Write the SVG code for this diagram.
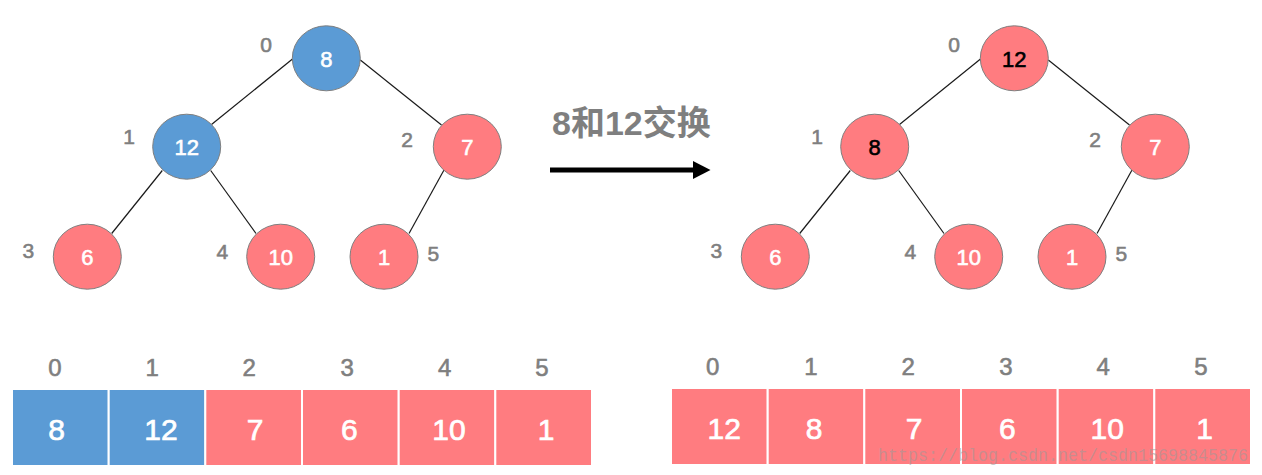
<svg xmlns="http://www.w3.org/2000/svg" width="1262" height="475" viewBox="0 0 1262 475">
  <defs>
    <style>
      .bg { fill: #ffffff; }
      .edge { stroke: #1a1a1a; stroke-width: 1.2; fill: none; }
      .blue { fill: #5B9BD5; }
      .red { fill: #FF7C80; }
      .node { stroke: #7f7f7f; stroke-width: 1; }
      .cell { stroke: #ffffff; stroke-width: 2; }
      .ntxt { font-family: "Liberation Sans", Arial, sans-serif; font-size: 22px; text-anchor: middle; fill: #ffffff; stroke: #ffffff; stroke-width: 0.6; }
      .dark { fill: #000000; stroke: #000000; }
      .idx { font-family: "Liberation Sans", Arial, sans-serif; font-size: 21px; text-anchor: middle; fill: #7f7f7f; stroke: #7f7f7f; stroke-width: 0.6; }
      .aidx { font-family: "Liberation Sans", Arial, sans-serif; font-size: 24px; text-anchor: middle; fill: #7f7f7f; stroke: #7f7f7f; stroke-width: 0.6; }
      .atxt { font-family: "Liberation Sans", Arial, sans-serif; font-size: 30px; text-anchor: middle; fill: #ffffff; stroke: #ffffff; stroke-width: 0.7; }
      .title { font-family: "Liberation Sans", "Noto Sans CJK SC", sans-serif; font-size: 34px; font-weight: bold; fill: #7f7f7f; }
      .wm { font-family: "Liberation Mono", monospace; font-size: 18px; fill: #9a9a9a; fill-opacity: 0.55; }
    </style>
  </defs>
  <rect class="bg" x="0" y="0" width="1262" height="475"/>

  <!-- Left tree connectors -->
  <g id="connectors-left">
    <line class="edge" x1="292.5" y1="59" x2="211.5" y2="124.5"/>
    <line class="edge" x1="360.3" y1="60" x2="441.5" y2="125"/>
    <line class="edge" x1="162.3" y1="170.5" x2="111.7" y2="233.5"/>
    <line class="edge" x1="210.7" y1="170.5" x2="256" y2="233.5"/>
    <line class="edge" x1="444" y1="170" x2="409" y2="233.5"/>
  </g>
  <!-- Right tree connectors -->
  <g id="connectors-right" transform="translate(688,0)">
    <line class="edge" x1="292.5" y1="59" x2="211.5" y2="124.5"/>
    <line class="edge" x1="360.3" y1="60" x2="441.5" y2="125"/>
    <line class="edge" x1="162.3" y1="170.5" x2="111.7" y2="233.5"/>
    <line class="edge" x1="210.7" y1="170.5" x2="256" y2="233.5"/>
    <line class="edge" x1="444" y1="170" x2="409" y2="233.5"/>
  </g>

  <!-- Left tree nodes -->
  <g id="L0"><ellipse class="node blue" cx="326.3" cy="58.3" rx="34" ry="32.5"/><text class="ntxt" x="326.3" y="66.5">8</text><text class="idx" x="266" y="51.5">0</text></g>
  <g id="L1"><ellipse class="node blue" cx="186.7" cy="146.7" rx="34" ry="32.5"/><text class="ntxt" x="186.7" y="154.5">12</text><text class="idx" x="129" y="144.3">1</text></g>
  <g id="L2"><ellipse class="node red" cx="467.3" cy="146.7" rx="34" ry="32.5"/><text class="ntxt" x="467.3" y="154.5">7</text><text class="idx" x="407" y="146.5">2</text></g>
  <g id="L3"><ellipse class="node red" cx="87.3" cy="256.7" rx="34" ry="32.5"/><text class="ntxt" x="87.3" y="264.5">6</text><text class="idx" x="28.3" y="258.3">3</text></g>
  <g id="L4"><ellipse class="node red" cx="280.7" cy="256.7" rx="34" ry="32.5"/><text class="ntxt" x="280.7" y="264.5">10</text><text class="idx" x="222.3" y="259.3">4</text></g>
  <g id="L5"><ellipse class="node red" cx="384" cy="256.7" rx="34" ry="32.5"/><text class="ntxt" x="384" y="264.5">1</text><text class="idx" x="433.3" y="260.7">5</text></g>

  <!-- Right tree nodes -->
  <g id="R0" transform="translate(688,0)"><ellipse class="node red" cx="326.3" cy="58.3" rx="34" ry="32.5"/><text class="ntxt dark" x="326.3" y="66.5">12</text><text class="idx" x="266" y="51.5">0</text></g>
  <g id="R1" transform="translate(688,0)"><ellipse class="node red" cx="186.7" cy="146.7" rx="34" ry="32.5"/><text class="ntxt dark" x="186.7" y="154.5">8</text><text class="idx" x="129" y="144.3">1</text></g>
  <g id="R2" transform="translate(688,0)"><ellipse class="node red" cx="467.3" cy="146.7" rx="34" ry="32.5"/><text class="ntxt" x="467.3" y="154.5">7</text><text class="idx" x="407" y="146.5">2</text></g>
  <g id="R3" transform="translate(688,0)"><ellipse class="node red" cx="87.3" cy="256.7" rx="34" ry="32.5"/><text class="ntxt" x="87.3" y="264.5">6</text><text class="idx" x="28.3" y="258.3">3</text></g>
  <g id="R4" transform="translate(688,0)"><ellipse class="node red" cx="280.7" cy="256.7" rx="34" ry="32.5"/><text class="ntxt" x="280.7" y="264.5">10</text><text class="idx" x="222.3" y="259.3">4</text></g>
  <g id="R5" transform="translate(688,0)"><ellipse class="node red" cx="384" cy="256.7" rx="34" ry="32.5"/><text class="ntxt" x="384" y="264.5">1</text><text class="idx" x="433.3" y="260.7">5</text></g>

  <!-- Middle title and arrow -->
  <g id="swap-label">
    <text class="title" x="552" y="134.5">8和12交换</text>
    <line x1="550" y1="170" x2="695" y2="170" stroke="#000" stroke-width="5"/>
    <polygon points="693,161 710.5,170 693,179" fill="#000"/>
  </g>

  <!-- Left array -->
  <g id="array-left">
    <rect class="cell blue" x="12" y="389" width="96.7" height="77"/>
    <rect class="cell blue" x="108.7" y="389" width="96.7" height="77"/>
    <rect class="cell red" x="205.3" y="389" width="96.7" height="77"/>
    <rect class="cell red" x="302" y="389" width="96.7" height="77"/>
    <rect class="cell red" x="398.7" y="389" width="96.7" height="77"/>
    <rect class="cell red" x="495.3" y="389" width="96.7" height="77"/>
    <text class="aidx" x="55" y="375.5">0</text>
    <text class="aidx" x="152.3" y="375.5">1</text>
    <text class="aidx" x="249.3" y="375.5">2</text>
    <text class="aidx" x="347.3" y="375.5">3</text>
    <text class="aidx" x="444.7" y="375.5">4</text>
    <text class="aidx" x="542" y="375.5">5</text>
    <text class="atxt" x="56.7" y="440">8</text>
    <text class="atxt" x="161" y="440">12</text>
    <text class="atxt" x="255" y="440">7</text>
    <text class="atxt" x="349.3" y="440">6</text>
    <text class="atxt" x="449" y="440">10</text>
    <text class="atxt" x="546" y="440">1</text>
  </g>

  <!-- Right array -->
  <g id="array-right">
    <rect class="cell red" x="671" y="388" width="96.7" height="77"/>
    <rect class="cell red" x="767.7" y="388" width="96.7" height="77"/>
    <rect class="cell red" x="864.3" y="388" width="96.7" height="77"/>
    <rect class="cell red" x="961" y="388" width="96.7" height="77"/>
    <rect class="cell red" x="1057.7" y="388" width="96.7" height="77"/>
    <rect class="cell red" x="1154.3" y="388" width="96.7" height="77"/>
    <text class="aidx" x="712.7" y="375">0</text>
    <text class="aidx" x="811" y="375">1</text>
    <text class="aidx" x="908.3" y="375">2</text>
    <text class="aidx" x="1006" y="375">3</text>
    <text class="aidx" x="1103.3" y="375">4</text>
    <text class="aidx" x="1201" y="375">5</text>
    <text class="atxt dark" x="724.3" y="439">12</text>
    <text class="atxt dark" x="814" y="439">8</text>
    <text class="atxt" x="914" y="439">7</text>
    <text class="atxt" x="1007.3" y="439">6</text>
    <text class="atxt" x="1107.3" y="439">10</text>
    <text class="atxt" x="1204.7" y="439">1</text>
  </g>

  <text class="wm" x="878" y="461" textLength="370" lengthAdjust="spacingAndGlyphs">https://blog.csdn.net/csdn15698845876</text>
</svg>
